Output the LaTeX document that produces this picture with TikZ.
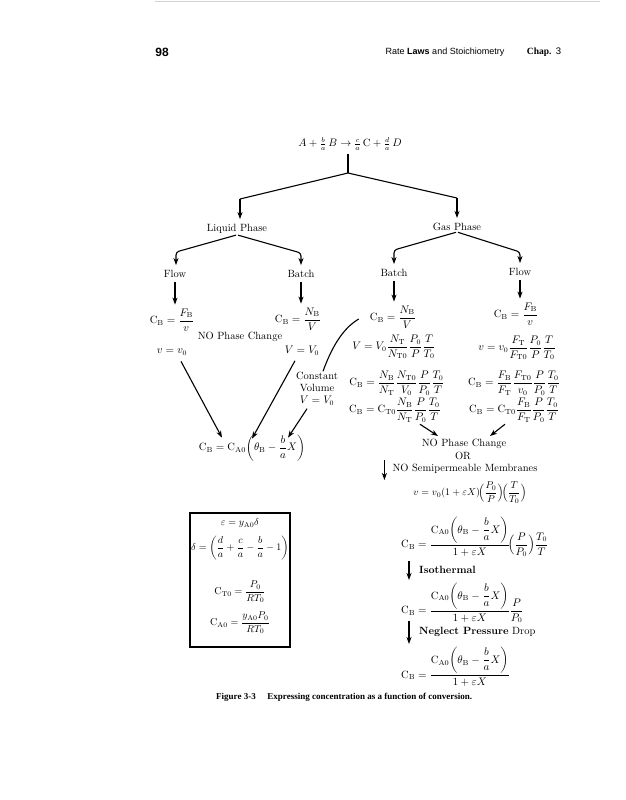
\documentclass[tikz,border=0pt]{standalone}
\usepackage{amsmath}
\usepackage{fontspec}
\newfontfamily\hdrsans{Liberation Sans}
\newfontfamily\capserif{Liberation Serif}
\usetikzlibrary{arrows.meta,calc}
\newcommand{\xCB}{\mathrm{C}_{\mathrm{B}}}
\newcommand{\xCA}{\mathrm{C}_{\mathrm{A0}}}
\newcommand{\xCT}{\mathrm{C}_{\mathrm{T0}}}
\newcommand{\xsb}[1]{_{\mathrm{#1}}}
\begin{document}
\begin{tikzpicture}[x=1pt,y=-1pt,
  lbl/.style={inner sep=1pt, font=\fontsize{10.5}{12}\selectfont, align=center},
  boxlbl/.style={inner sep=1pt, font=\fontsize{10}{12}\selectfont},
  arr/.style={-{Stealth[length=7pt,width=5pt,inset=2pt]}, line width=1.1pt},
  ln/.style={line width=1.1pt}]
\useasboundingbox (0,0) rectangle (626,800);
\fill[white] (0,0) rectangle (626,800);
\draw[gray!35, line width=0.7pt] (155,1.5) -- (600,1.5);

% header
\node[inner sep=0, font=\hdrsans\bfseries\fontsize{12}{14}\selectfont] (pg) at (162,52) {98};
\node[inner sep=0, font=\hdrsans\fontsize{9}{11}\selectfont] (rt) at (445,52) {Rate \textbf{Laws} and Stoichiometry};
\node[inner sep=0, font=\fontsize{9.5}{11}\selectfont] (ch) at (544,52) {{\capserif\bfseries Chap.} {\hdrsans 3}};

% reaction and first split
\node[lbl] (eq) at (350,144) {$A+\tfrac{b}{a}\,B\rightarrow\tfrac{c}{a}\,\mathrm{C}+\tfrac{d}{a}\,D$};
\coordinate (j) at (348,173);
\coordinate (jl) at (240,199);
\coordinate (jr) at (457,198);
\draw[ln, shorten <=2pt] (eq.south -| j) -- (j);
\draw[ln] (jl) -- (j) -- (jr);
\node[lbl] (lp) at (237,229) {Liquid Phase};
\node[lbl] (gp) at (457,227) {Gas Phase};
\draw[arr, shorten >=4pt] (jl) -- (jl |- lp.north);
\draw[arr, shorten >=4pt] (jr) -- (jr |- gp.north);

% second split
\node[lbl] (fl) at (175,274) {Flow};
\node[lbl] (bl) at (301,274) {Batch};
\node[lbl] (bg) at (394,273) {Batch};
\node[lbl] (fg) at (520,272) {Flow};
\coordinate (el1) at (176,252);
\coordinate (el2) at (301,253);
\coordinate (eg1) at (394,250);
\coordinate (eg2) at (520,252);
\draw[arr, rounded corners=3pt, shorten <=1pt, shorten >=4pt] (lp.south) -- (el1) -- (el1 |- fl.north);
\draw[arr, rounded corners=3pt, shorten <=1pt, shorten >=4pt] (lp.south) -- (el2) -- (el2 |- bl.north);
\draw[arr, rounded corners=3pt, shorten <=1pt, shorten >=4pt] (gp.south) -- (eg1) -- (eg1 |- bg.north);
\draw[arr, rounded corners=3pt, shorten <=1pt, shorten >=4pt] (gp.south) -- (eg2) -- (eg2 |- fg.north);

% liquid formulas
\node[lbl] (f1) at (172,320) {$\xCB=\dfrac{F\xsb{B}}{v}$};
\node[lbl] (b1) at (298,319) {$\xCB=\dfrac{N\xsb{B}}{V}$};
\draw[arr, shorten <=3pt, shorten >=3pt] (fl.south) -- (fl.south |- f1.north);
\draw[arr, shorten <=3pt, shorten >=3pt] (bl.south) -- (bl.south |- b1.north);
\node[lbl] (npc) at (240,337) {NO Phase Change};
\node[lbl] (vv) at (172,352) {$v=v_0$};
\node[lbl] (VV) at (302,351) {$V=V_0$};
\node[lbl] (cv) at (317,389) {Constant\\Volume\\$V=V_0$};
\node[lbl] (cb) at (252,448) {$\xCB=\xCA\!\left(\theta\xsb{B}-\dfrac{b}{a}X\right)$};
\draw[arr] ($(vv.south)+(9,5)$) -- ($(cb.north)+(-30,4)$);
\draw[arr] ($(VV.south)+(-7,4)$) -- ($(cb.north)+(0,5)$);
\draw[arr] ($(cv.south)+(-10,2)$) -- ($(cb.north)+(36,4)$);

% gas batch
\node[lbl] (g1) at (393,317) {$\xCB=\dfrac{N\xsb{B}}{V}$};
\node[lbl] (g2) at (394,347) {$V=V_0\dfrac{N\xsb{T}}{N\xsb{T0}}\dfrac{P_0}{P}\dfrac{T}{T_0}$};
\node[lbl] (g3) at (397,383) {$\xCB=\dfrac{N\xsb{B}}{N\xsb{T}}\dfrac{N\xsb{T0}}{V_0}\dfrac{P}{P_0}\dfrac{T_0}{T}$};
\node[lbl] (g4) at (395,410) {$\xCB=\xCT\dfrac{N\xsb{B}}{N\xsb{T}}\dfrac{P}{P_0}\dfrac{T_0}{T}$};
\draw[arr, shorten <=3pt, shorten >=3pt] (bg.south) -- (bg.south |- g1.north);
\draw[ln] ($(g1.west)+(-10,2)$) .. controls ($(g1.west)+(-27,12)$) and ($(cv.north)+(14,-22)$) .. ($(cv.north)+(6,0)$);

% gas flow
\node[lbl] (h1) at (516,314) {$\xCB=\dfrac{F\xsb{B}}{v}$};
\node[lbl] (h2) at (517,348) {$v=v_0\dfrac{F\xsb{T}}{F\xsb{T0}}\dfrac{P_0}{P}\dfrac{T}{T_0}$};
\node[lbl] (h3) at (514,383) {$\xCB=\dfrac{F\xsb{B}}{F\xsb{T}}\dfrac{F\xsb{T0}}{v_0}\dfrac{P}{P_0}\dfrac{T_0}{T}$};
\node[lbl] (h4) at (514,410) {$\xCB=\xCT\dfrac{F\xsb{B}}{F\xsb{T}}\dfrac{P}{P_0}\dfrac{T_0}{T}$};
\draw[arr, shorten <=3pt, shorten >=3pt] (fg.south) -- (fg.south |- h1.north);

% merge
\node[lbl] (npc2) at (464,444) {NO Phase Change};
\node[lbl] (orr) at (463,456) {OR};
\node[lbl] (nsm) at (465,469) {NO Semipermeable Membranes};
\draw[arr] ($(g4.south)+(25,1)$) -- ($(npc2.north)+(-26,-2)$);
\draw[arr] ($(h4.south)+(-9,1)$) -- ($(npc2.north)+(26,-2)$);
\draw[arr] ($(nsm.west)+(-7,-9)$) -- ($(nsm.west)+(-7,11)$);

\node[lbl, font=\fontsize{10}{12}\selectfont] (e1) at (470,493) {$v=v_0(1+\varepsilon X)\!\Bigl(\dfrac{P_0}{P}\Bigr)\!\Bigl(\dfrac{T}{T_0}\Bigr)$};
\node[lbl, anchor=west] (e2) at (400,537) {$\xCB=\dfrac{\xCA\!\left(\theta\xsb{B}-\dfrac{b}{a}X\right)}{1+\varepsilon X}\!\Bigl(\dfrac{P}{P_0}\Bigr)\dfrac{T_0}{T}$};
\node[lbl, anchor=west] (iso) at (418,570) {\bfseries Isothermal};
\node[lbl, anchor=west] (e3) at (400,603) {$\xCB=\dfrac{\xCA\!\left(\theta\xsb{B}-\dfrac{b}{a}X\right)}{1+\varepsilon X}\dfrac{P}{P_0}$};
\node[lbl, anchor=west] (npd) at (418,632) {\textbf{Neglect Pressure} Drop};
\node[lbl, anchor=west] (e4) at (400,667) {$\xCB=\dfrac{\xCA\!\left(\theta\xsb{B}-\dfrac{b}{a}X\right)}{1+\varepsilon X}$};
\draw[arr] ($(iso.west)+(-9,-9)$) -- ($(iso.west)+(-9,10)$);
\draw[arr] ($(npd.west)+(-9,-11)$) -- ($(npd.west)+(-9,12)$);

% box
\node[draw, line width=1.1pt, minimum width=100pt, minimum height=134pt, inner sep=0] (bx) at (240,580) {};
\node[boxlbl] (eps) at (240,523) {$\varepsilon=y\xsb{A0}\delta$};
\node[boxlbl] (del) at (240,548) {$\delta=\left(\dfrac{d}{a}+\dfrac{c}{a}-\dfrac{b}{a}-1\right)$};
\node[boxlbl] (cto) at (240,592) {$\xCT=\dfrac{P_0}{RT_0}$};
\node[boxlbl] (cao) at (240,623) {$\xCA=\dfrac{y\xsb{A0}P_0}{RT_0}$};

% caption
\node[anchor=west, inner sep=0, font=\capserif\bfseries\fontsize{9}{11}\selectfont] (cap) at (216,697) {Figure 3-3\hspace{1.3em}Expressing concentration as a function of conversion.};
\end{tikzpicture}
\end{document}
